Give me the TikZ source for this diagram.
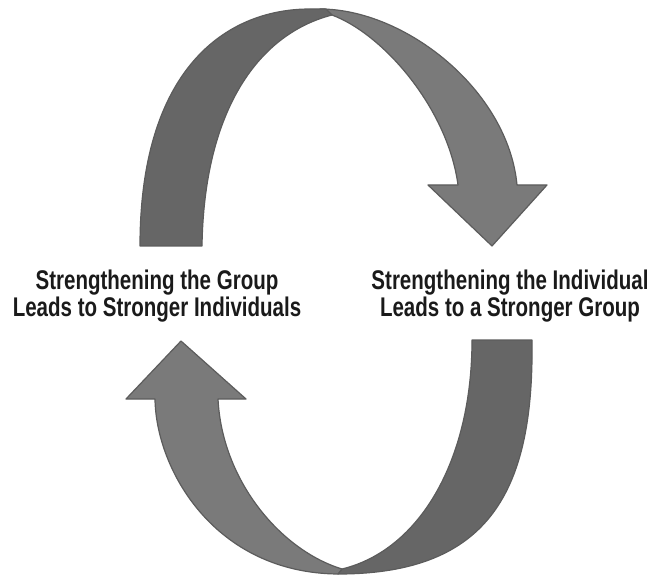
\documentclass[tikz,border=0pt]{standalone}
\usepackage{fontspec}
\usepackage{tikz}
\newfontfamily\labelfont{Liberation Sans}[FakeStretch=0.76]
\definecolor{bandedge}{HTML}{5C5C5C}
\definecolor{banddark}{HTML}{666666}
\definecolor{bandlight}{HTML}{7A7A7A}
\definecolor{labelink}{HTML}{1A1A1A}
\tikzstyle{darkband} = [draw=bandedge, fill=banddark, line width=1.2pt, line join=round]
\tikzstyle{lightband} = [draw=bandedge, fill=bandlight, line width=1.2pt, line join=round]
\tikzstyle{label} = [text=labelink, align=center, font=\labelfont\bfseries\fontsize{27}{27}\selectfont]

\begin{document}
\begin{tikzpicture}[x=1pt, y=-1pt]
    \useasboundingbox (0,0) rectangle (658,577);
    % Top arrow
    \path [lightband] (320,9) .. controls (405,9) and (508,90) .. (517,185)
        -- (547,185) -- (492,246) -- (428,185) -- (458,185)
        .. controls (448,110) and (385,35) .. (332,15) -- cycle;
    \path [darkband] (140,246) .. controls (140,70) and (225,9) .. (310,9)
        -- (326,9) -- (332,15) .. controls (255,35) and (204,115) .. (202,246) -- cycle;
    % Bottom arrow
    \path [darkband] (472,340) -- (532,340) .. controls (534,490) and (490,574) .. (338,574)
        -- (342,569) .. controls (420,550) and (472,460) .. (472,340) -- cycle;
    \path [lightband] (218,399) .. controls (222,480) and (280,550) .. (342,569)
        -- (338,574) .. controls (215,573) and (156,470) .. (155,399)
        -- (126,399) -- (181,341) -- (246,399) -- cycle;
    % Place labels
    \node [label] (group) at (157,296) {Strengthening the Group\\Leads to Stronger Individuals};
    \node [label] (individual) at (510,296) {Strengthening the Individual\\Leads to a Stronger Group};
\end{tikzpicture}
\end{document}
